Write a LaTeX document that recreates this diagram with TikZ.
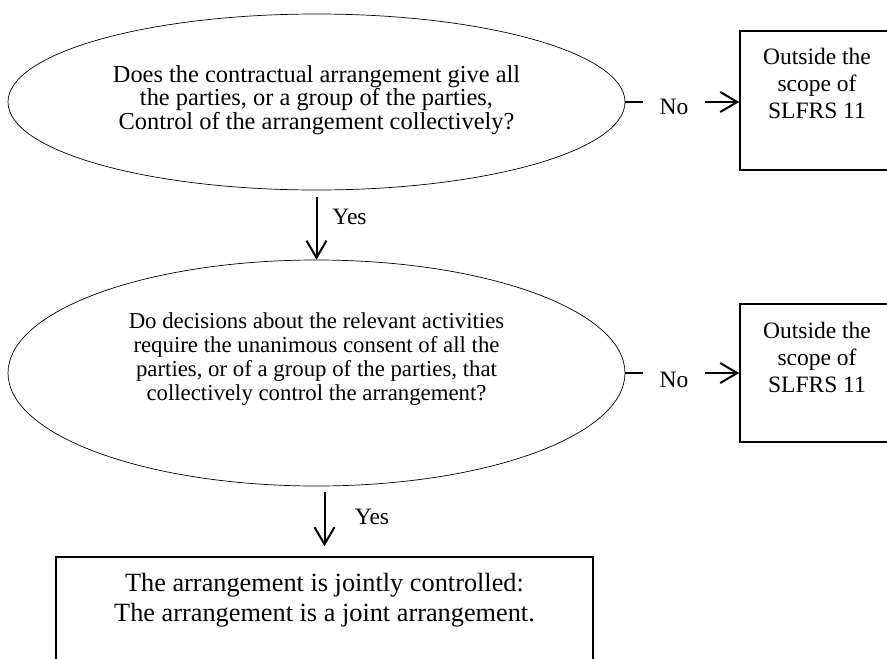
\documentclass[tikz,border=0pt]{standalone}
\usepackage{fontspec}
\setmainfont{Liberation Serif}
\usetikzlibrary{shapes.geometric,arrows.meta}
\begin{document}
\begin{tikzpicture}[x=1pt,y=-1pt,
  oval/.style={draw, ellipse, line width=0.7pt, inner sep=0pt},
  box/.style={draw, rectangle, line width=1.6pt, inner sep=0pt},
  arr/.style={line width=2pt, -{Straight Barb[length=17pt,width=20pt]}},
  conn/.style={line width=2pt},
  qtxta/.style={align=center, inner sep=0pt, font=\fontsize{24.4}{23.5}\selectfont},
  qtxtb/.style={align=center, inner sep=0pt, font=\fontsize{22.8}{24}\selectfont},
  btxt/.style={align=center, inner sep=0pt, font=\fontsize{23.5}{27}\selectfont},
  jtxt/.style={align=center, inner sep=0pt, font=\fontsize{26.3}{30}\selectfont},
  lbl/.style={inner ysep=0pt, inner xsep=16pt, font=\fontsize{23.5}{27}\selectfont}]
\path[use as bounding box, clip] (0,0) rectangle (887,659);
% questions
\node[oval, minimum width=617pt, minimum height=176pt] (q1) at (316.5,102) {};
\node[qtxta] (q1t) at (316.5,100) {Does the contractual arrangement give all\\the parties, or a group of the parties,\\Control of the arrangement collectively?};
\node[oval, minimum width=617pt, minimum height=226pt] (q2) at (316.5,373) {};
\node[qtxtb] (q2t) at (316.5,359.5) {Do decisions about the relevant activities\\require the unanimous consent of all the\\parties, or of a group of the parties, that\\collectively control the arrangement?};
% outside boxes
\node[box, minimum width=154pt, minimum height=139pt] (o1) at (817,100.5) {};
\node[btxt] (o1t) at (817,83.5) {Outside the\\scope of\\SLFRS 11};
\node[box, minimum width=154pt, minimum height=138pt] (o2) at (817,373) {};
\node[btxt] (o2t) at (817,357) {Outside the\\scope of\\SLFRS 11};
% result box
\node[box, minimum width=537pt, minimum height=163pt] (j) at (324.5,638.5) {};
\node[jtxt] (jt) at (324.5,600.5) {The arrangement is jointly controlled:\\The arrangement is a joint arrangement.};
% No connectors
\node[lbl] (n1) at (674,106.5) {No};
\draw[conn] (q1.east) -- (q1.east -| n1.west);
\draw[arr] (q1.east -| n1.east) -- (q1.east -| o1.west);
\node[lbl] (n2) at (674,380) {No};
\draw[conn] (q2.east) -- (q2.east -| n2.west);
\draw[arr] (q2.east -| n2.east) -- (q2.east -| o2.west);
% Yes connectors
\draw[arr] ([yshift=-7pt]q1.south) -- (q2.north);
\node[lbl, inner xsep=0pt] (y1) at (349.5,217) {Yes};
\draw[arr] ([yshift=-6pt]q2.south -| j.north) -- ([yshift=10pt]j.north);
\node[lbl, inner xsep=0pt] (y2) at (372,517) {Yes};
\end{tikzpicture}
\end{document}
